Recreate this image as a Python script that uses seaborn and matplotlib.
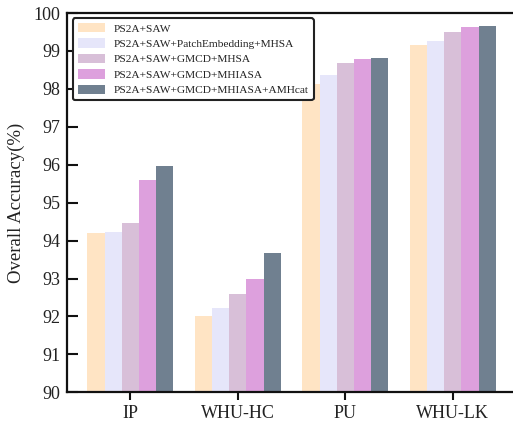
import matplotlib
matplotlib.use("Agg")
import matplotlib.pyplot as plt
import seaborn as sns
import pandas as pd

datasets = ["IP", "WHU-HC", "PU", "WHU-LK"]
methods = [
    "PS2A+SAW",
    "PS2A+SAW+PatchEmbedding+MHSA",
    "PS2A+SAW+GMCD+MHSA",
    "PS2A+SAW+GMCD+MHIASA",
    "PS2A+SAW+GMCD+MHIASA+AMHcat",
]
acc_m1 = [94.21, 92.01, 98.12, 99.16]
acc_m2 = [94.22, 92.21, 98.37, 99.27]
acc_m3 = [94.46, 92.60, 98.69, 99.51]
acc_m4 = [95.61, 92.98, 98.80, 99.64]
acc_m5 = [95.97, 93.68, 98.82, 99.65]
colors = ["bisque", "lavender", "thistle", "plum", "slategray"]

rows = []
for m, vals in zip(methods, [acc_m1, acc_m2, acc_m3, acc_m4, acc_m5]):
    for d, v in zip(datasets, vals):
        rows.append({"Dataset": d, "Method": m, "Accuracy": v})
df = pd.DataFrame(rows)

sns.set_theme(style="white")
plt.rcParams["font.family"] = ["Liberation Serif", "DejaVu Serif"]

fig = plt.figure(figsize=(5.13, 4.29), dpi=100)
ax = fig.add_axes([67/513, (429-392.3)/429, 446/513, (392.3-13)/429])

sns.barplot(data=df, x="Dataset", y="Accuracy", hue="Method",
            palette=colors, width=0.8, ax=ax, saturation=1,
            edgecolor="none", linewidth=0)

ax.set_ylim(90, 100)
ax.set_xlim(-0.59, 3.56)
ax.set_yticks(range(90, 101))
ax.set_xlabel("")
ax.set_ylabel("Overall Accuracy(%)", fontsize=13.5, color="#222222", labelpad=6)
ax.tick_params(axis="y", direction="in", length=8, width=1.5, labelsize=13,
               left=True, colors="#111111", labelcolor="#222222", pad=5)
ax.tick_params(axis="x", direction="out", length=6, width=1.5, labelsize=13,
               bottom=True, colors="#111111", labelcolor="#222222")
for s in ["left", "bottom", "top"]:
    ax.spines[s].set_linewidth(1.6)
    ax.spines[s].set_color("#111111")
ax.spines["right"].set_visible(False)

leg = ax.legend(loc="upper left", fontsize=8.2, frameon=True, fancybox=True,
                bbox_to_anchor=(0.006, 0.995), borderaxespad=0.3,
                handlelength=2.4, handleheight=0.9, labelspacing=0.42)
leg.get_frame().set_edgecolor("#222222")
leg.get_frame().set_linewidth(1.5)
leg.get_frame().set_alpha(1)
for t in leg.get_texts():
    t.set_color("#222222")

fig.savefig("out.png", dpi=100)
